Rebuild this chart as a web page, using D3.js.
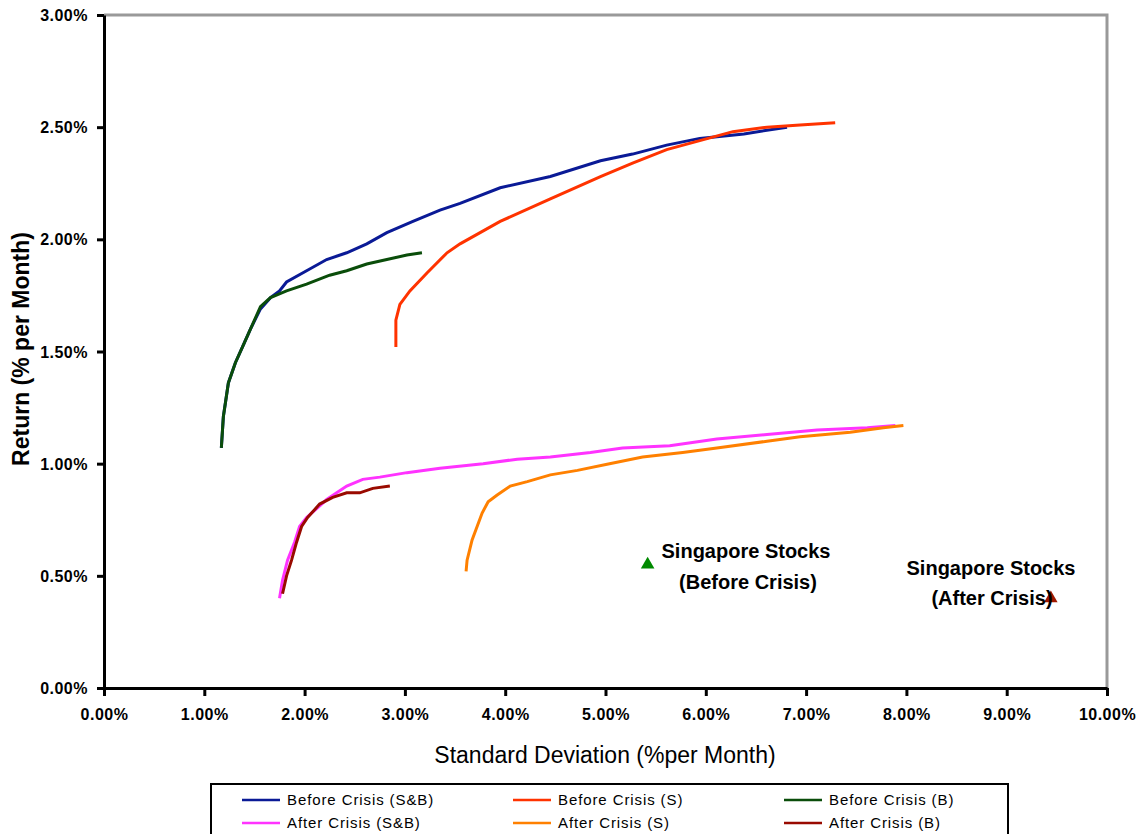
<!DOCTYPE html>
<html>
<head>
<meta charset="utf-8">
<script src="https://cdn.jsdelivr.net/npm/d3@7"></script>
<style>
  body { margin: 0; background: #fff; }
  svg { display: block; font-family: Arial, "Liberation Sans", sans-serif; }
  .tick text { font-size: 16px; font-weight: bold; fill: #000; letter-spacing: 0.5px; }
  .title { font-size: 23px; fill: #000; }
  .note { font-size: 20px; font-weight: bold; fill: #000; }
  .leg { font-size: 15px; fill: #000; letter-spacing: 0.9px; }
</style>
</head>
<body>
<svg id="chart" width="1140" height="834"></svg>
<script>
// values in percent per month: [std dev, return]
const beforeSB = [[1.17,1.07],[1.19,1.21],[1.24,1.36],[1.31,1.45],[1.38,1.52],[1.46,1.60],[1.56,1.69],[1.66,1.74],[1.75,1.77],[1.82,1.81],[2.02,1.86],[2.22,1.91],[2.42,1.94],[2.62,1.98],[2.82,2.03],[3.08,2.08],[3.35,2.13],[3.55,2.16],[3.95,2.23],[4.45,2.28],[4.95,2.35],[5.27,2.38],[5.61,2.42],[5.94,2.45],[6.38,2.47],[6.81,2.50]]
const beforeS = [[2.91,1.52],[2.91,1.64],[2.95,1.71],[3.05,1.77],[3.22,1.85],[3.42,1.94],[3.55,1.98],[3.75,2.03],[3.95,2.08],[4.45,2.18],[4.95,2.28],[5.27,2.34],[5.61,2.40],[5.94,2.44],[6.27,2.48],[6.61,2.50],[6.94,2.51],[7.29,2.52]]
const beforeB = [[1.17,1.07],[1.19,1.21],[1.24,1.36],[1.31,1.45],[1.38,1.52],[1.46,1.60],[1.56,1.70],[1.66,1.74],[1.82,1.77],[2.02,1.80],[2.25,1.84],[2.42,1.86],[2.62,1.89],[2.82,1.91],[3.02,1.93],[3.17,1.94]]
const afterSB = [[1.75,0.40],[1.78,0.48],[1.83,0.57],[1.90,0.65],[1.95,0.72],[2.02,0.76],[2.12,0.80],[2.22,0.84],[2.32,0.87],[2.42,0.90],[2.58,0.93],[2.75,0.94],[3.02,0.96],[3.35,0.98],[3.78,1.00],[4.12,1.02],[4.45,1.03],[4.85,1.05],[5.17,1.07],[5.64,1.08],[6.11,1.11],[6.61,1.13],[7.11,1.15],[7.61,1.16],[7.89,1.17]]
const afterS = [[3.61,0.52],[3.62,0.57],[3.67,0.66],[3.72,0.72],[3.77,0.78],[3.83,0.83],[3.92,0.86],[4.05,0.90],[4.22,0.92],[4.45,0.95],[4.72,0.97],[5.04,1.00],[5.37,1.03],[5.77,1.05],[6.11,1.07],[6.61,1.10],[6.94,1.12],[7.44,1.14],[7.77,1.16],[7.97,1.17]]
const afterB = [[1.78,0.42],[1.82,0.50],[1.87,0.57],[1.92,0.65],[1.97,0.72],[2.03,0.76],[2.15,0.82],[2.28,0.85],[2.42,0.87],[2.55,0.87],[2.68,0.89],[2.85,0.90]]

const seriesNames = ["Before Crisis (S&B)", "Before Crisis (S)", "Before Crisis (B)", "After Crisis (S&B)", "After Crisis (S)", "After Crisis (B)"]
const seriesData = [beforeSB, beforeS, beforeB, afterSB, afterS, afterB]
const seriesColors = ["#0a1a96", "#ff3300", "#0a4d0a", "#ff33ff", "#ff8000", "#990a00"]

const stockPoints = [
  {name: "Singapore Stocks", sub: "(Before Crisis)", x: 5.42, y: 0.55, c: "#008a00"},
  {name: "Singapore Stocks", sub: "(After Crisis)", x: 9.44, y: 0.40, c: "#a01800"}
]

const xTicks = [0,1,2,3,4,5,6,7,8,9,10]
const yTicks = [0,0.5,1,1.5,2,2.5,3]

const mLeft = 104, mRight = 1107, mTop = 15, mBottom = 688

let xScale = d3.scaleLinear().domain([0,10]).range([mLeft,mRight])
let yScale = d3.scaleLinear().domain([0,3]).range([mBottom,mTop])

let svg = d3.select("#chart")
let fmt = function(v){ return d3.format(".2f")(v) + "%" }

// plot frame (grey top/right)
svg.append("path")
    .attr("d", `M${mLeft},${mTop}H${mRight}V${mBottom}`)
    .attr("fill","none").attr("stroke","#999").attr("stroke-width",3)

// series lines
let line = d3.line().x(function(d){return xScale(d[0])}).y(function(d){return yScale(d[1])})
svg.selectAll(".series")
    .data(seriesData)
    .enter()
    .append("path")
    .attr("class","series")
    .attr("d", line)
    .attr("fill","none")
    .attr("stroke", function(d,i){return seriesColors[i]})
    .attr("stroke-width",3)

// axes
let x_axis = d3.axisBottom(xScale).tickValues(xTicks).tickFormat(fmt).tickSize(8).tickSizeOuter(0)
let y_axis = d3.axisLeft(yScale).tickValues(yTicks).tickFormat(fmt).tickSize(7).tickSizeOuter(0)
let gx = svg.append("g").attr("transform", `translate(0,${mBottom})`).call(x_axis)
let gy = svg.append("g").attr("transform", `translate(${mLeft},0)`).call(y_axis)
gx.select(".domain").attr("stroke","#000").attr("stroke-width",3)
gy.select(".domain").attr("stroke","#000").attr("stroke-width",3)
gx.selectAll(".tick line").attr("stroke","#000").attr("stroke-width",3)
gy.selectAll(".tick line").attr("stroke","#000").attr("stroke-width",3)
gx.selectAll(".tick text").attr("y",21)
gy.selectAll(".tick text").attr("x",-16).attr("dy","0.35em")

// triangles and their notes
svg.selectAll(".stock")
    .data(stockPoints)
    .enter()
    .append("path")
    .attr("transform", function(d){return `translate(${xScale(d.x)},${yScale(d.y)})`})
    .attr("d", d3.symbol().type(d3.symbolTriangle).size(80))
    .attr("fill", function(d){return d.c})

let n1 = svg.append("text").attr("class","note").attr("x",746).attr("y",558).attr("text-anchor","middle")
n1.append("tspan").text(stockPoints[0].name)
n1.append("tspan").attr("x",748).attr("y",589).text(stockPoints[0].sub)
let n2 = svg.append("text").attr("class","note").attr("x",991).attr("y",575).attr("text-anchor","middle")
n2.append("tspan").text(stockPoints[1].name)
n2.append("tspan").attr("x",992).attr("y",605).text(stockPoints[1].sub)

// axis titles
svg.append("text").attr("class","title")
    .attr("x",605).attr("y",763).attr("text-anchor","middle")
    .text("Standard Deviation (%per Month)")
svg.append("text").attr("class","title")
    .attr("transform", `translate(29,349) rotate(-90)`)
    .attr("text-anchor","middle").attr("font-weight","bold")
    .text("Return (% per Month)")

// legend
svg.append("rect").attr("x",211).attr("y",784).attr("width",797).attr("height",62)
    .attr("fill","#fff").attr("stroke","#000").attr("stroke-width",2)
let legX = [242, 513, 784]
let leg = svg.selectAll(".legitem")
    .data(seriesNames)
    .enter()
    .append("g")
    .attr("transform", function(d,i){return `translate(${legX[i%3]},${i<3 ? 800 : 823})`})
leg.append("line").attr("x1",0).attr("x2",38).attr("y1",0).attr("y2",0)
    .attr("stroke", function(d,i){return seriesColors[i]}).attr("stroke-width",2.5)
leg.append("text").attr("class","leg").attr("x",45).attr("dy","0.35em").text(function(d){return d})
</script>
</body>
</html>
